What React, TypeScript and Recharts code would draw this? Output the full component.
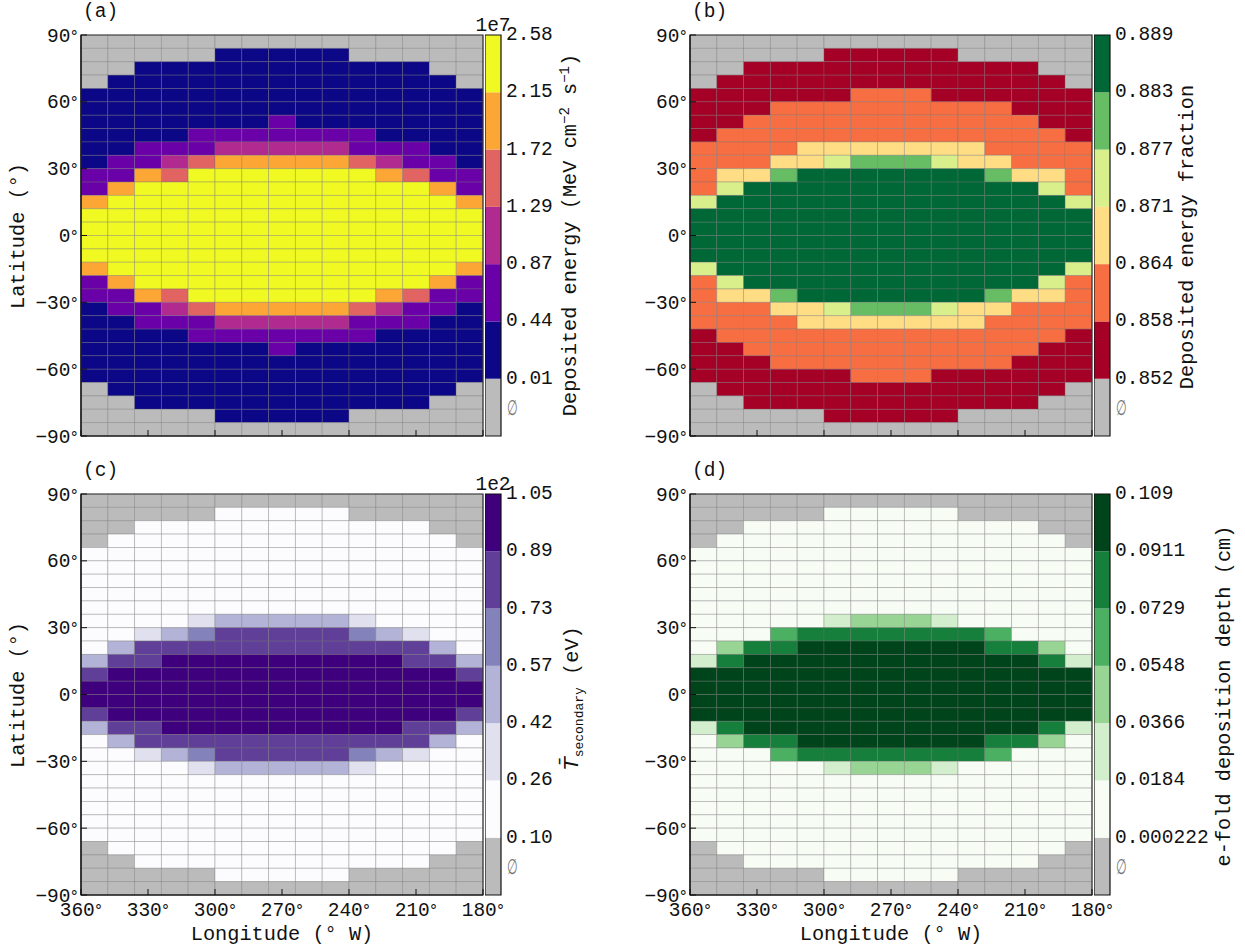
import React from 'react';
import { Bar, BarChart, ReferenceArea, Scatter, ScatterChart, XAxis, YAxis } from 'recharts';

const FONT = '"Liberation Mono", monospace';
const FONT_SIZE = 19.5;
const TITLE_SIZE = 20.3;

const LON_TICKS = [360, 330, 300, 270, 240, 210, 180];
const LAT_TICKS = [90, 60, 30, 0, -30, -60, -90];
const LON_CENTERS = [354, 342, 330, 318, 306, 294, 282, 270, 258, 246, 234, 222, 210, 198, 186];
const LAT_CENTERS = [87, 81, 75, 69, 63, 57, 51, 45, 39, 33, 27, 21, 15, 9, 3, -3, -9, -15, -21, -27, -33, -39, -45, -51, -57, -63, -69, -75, -81, -87];

// bin index per cell, top row first, 0 = no data
const ENERGY_BINS = [
  '000000000000000',
  '000001111100000',
  '001111111111100',
  '011111111111110',
  '111111111111111',
  '111111111111111',
  '111111121111111',
  '111122222221111',
  '112223333322211',
  '122345555543221',
  '225466666665422',
  '256666666666652',
  '566666666666665',
  '666666666666666',
  '666666666666666',
  '666666666666666',
  '666666666666666',
  '566666666666665',
  '256666666666652',
  '225466666665422',
  '122345555543221',
  '112223333322211',
  '111122222221111',
  '111111121111111',
  '111111111111111',
  '111111111111111',
  '011111111111110',
  '001111111111100',
  '000001111100000',
  '000000000000000',
];

const FRACTION_BINS = [
  '000000000000000',
  '000001111100000',
  '001111111111100',
  '011111111111110',
  '111111222111111',
  '111222222222111',
  '112222222222211',
  '122222222222221',
  '222233333332222',
  '222334555433222',
  '233566666665332',
  '246666666666642',
  '466666666666664',
  '666666666666666',
  '666666666666666',
  '666666666666666',
  '666666666666666',
  '466666666666664',
  '246666666666642',
  '233566666665332',
  '222334555433222',
  '222233333332222',
  '122222222222221',
  '112222222222211',
  '111222222222111',
  '111111222111111',
  '011111111111110',
  '001111111111100',
  '000001111100000',
  '000000000000000',
];

const SECONDARY_BINS = [
  '000000000000000',
  '000001111100000',
  '001111111111100',
  '011111111111110',
  '111111111111111',
  '111111111111111',
  '111111111111111',
  '111111111111111',
  '111111111111111',
  '111123333321111',
  '112345555543211',
  '135555555555531',
  '355666666666553',
  '566666666666665',
  '666666666666666',
  '666666666666666',
  '566666666666665',
  '355666666666553',
  '135555555555531',
  '112345555543211',
  '111123333321111',
  '111111111111111',
  '111111111111111',
  '111111111111111',
  '111111111111111',
  '111111111111111',
  '011111111111110',
  '001111111111100',
  '000001111100000',
  '000000000000000',
];

const DEPTH_BINS = [
  '000000000000000',
  '000001111100000',
  '001111111111100',
  '011111111111110',
  '111111111111111',
  '111111111111111',
  '111111111111111',
  '111111111111111',
  '111111111111111',
  '111112333211111',
  '111455555554111',
  '135566666665531',
  '256666666666652',
  '666666666666666',
  '666666666666666',
  '666666666666666',
  '666666666666666',
  '256666666666652',
  '135566666665531',
  '111455555554111',
  '111112333211111',
  '111111111111111',
  '111111111111111',
  '111111111111111',
  '111111111111111',
  '111111111111111',
  '011111111111110',
  '001111111111100',
  '000001111100000',
  '000000000000000',
];

const ENERGY_COLORS = ['#bbbbbb', '#0c0786', '#6a00a8', '#b12a90', '#e16462', '#fca636', '#f0f921'];
const FRACTION_COLORS = ['#bbbbbb', '#a50026', '#f66e42', '#fedd85', '#d9ef8b', '#66bd63', '#006837'];
const SECONDARY_COLORS = ['#bbbbbb', '#fcfbfd', '#e0e0ee', '#b3b3d8', '#8482ba', '#603f99', '#3f007d'];
const DEPTH_COLORS = ['#bbbbbb', '#f7fcf5', '#d3eecd', '#98d594', '#4bb062', '#157f3b', '#00441b'];

const ENERGY_TICKS = ['0.01', '0.44', '0.87', '1.29', '1.72', '2.15', '2.58'];
const FRACTION_TICKS = ['0.852', '0.858', '0.864', '0.871', '0.877', '0.883', '0.889'];
const SECONDARY_TICKS = ['0.10', '0.26', '0.42', '0.57', '0.73', '0.89', '1.05'];
const DEPTH_TICKS = ['0.000222', '0.0184', '0.0366', '0.0548', '0.0729', '0.0911', '0.109'];

const PLOT_W = 402;
const PLOT_H = 401;
const CHART_H = 476;
const CHART_W = 513;
const TOP_GAP = 35;
const LEFT_GAP = 81;
const BOTTOM_GAP = CHART_H - TOP_GAP - PLOT_H;
const CELL_W = PLOT_W / LON_CENTERS.length;
const CELL_H = PLOT_H / LAT_CENTERS.length;
const BAR_RIGHT = 110;

const CellRect = ({ cx, cy, payload, colors }: any) => (
  <rect
    x={cx - CELL_W / 2}
    y={cy - CELL_H / 2}
    width={CELL_W}
    height={CELL_H}
    fill={colors[payload.bin]}
    stroke="#707070"
    strokeOpacity={0.38}
    strokeWidth={0.9}
  />
);

const NoMark = () => <g />;

// the degree sign is narrower than a full mono cell in the original
const DegreeTick = ({ x, y, payload, textAnchor, baseline, show = true }: any) =>
  show ? (
    <text x={x} y={y + baseline} textAnchor={textAnchor} fontFamily={FONT} fontSize={FONT_SIZE} fill="#111">
      {String(payload.value).replace('-', '−')}
      <tspan fontFamily="DejaVu Sans" fontSize={15}>°</tspan>
    </text>
  ) : (
    <g />
  );

const ColorbarTick = ({ x, y, payload, labels }: any) => {
  if (payload.value === 0.5) {
    return (
      <text
        transform={`translate(${x + 1},${y + 8}) scale(0.72,1.25)`}
        fontFamily="DejaVu Sans"
        fontStyle="italic"
        fontSize={17}
        fill="#777"
      >
        ∅
      </text>
    );
  }
  return (
    <text x={x} y={y + 5} fontFamily={FONT} fontSize={FONT_SIZE} fill="#111">
      {labels[payload.value - 1]}
    </text>
  );
};

const MapPanel = ({ left, top, bins, colors, lonLabels }: any) => {
  const cells = bins.flatMap((row: string, r: number) =>
    LON_CENTERS.map((lon, c) => ({ lon, lat: LAT_CENTERS[r], bin: Number(row[c]) }))
  );
  return (
    <div style={{ position: 'absolute', left, top, width: CHART_W, height: CHART_H }}>
      <div style={{ position: 'absolute', left: 0, top: 0 }}>
        <ScatterChart
          width={CHART_W}
          height={CHART_H}
          margin={{ top: TOP_GAP, right: CHART_W - LEFT_GAP - PLOT_W, bottom: BOTTOM_GAP, left: LEFT_GAP }}
        >
          <XAxis type="number" dataKey="lon" domain={[180, 360]} reversed hide />
          <YAxis type="number" dataKey="lat" domain={[-90, 90]} hide />
          <Scatter data={cells} isAnimationActive={false} shape={<CellRect colors={colors} />} />
        </ScatterChart>
      </div>
      {/* axes go in a second chart on top so the inward ticks stay above the cells */}
      <div style={{ position: 'absolute', left: 0, top: 0 }}>
        <ScatterChart
          width={CHART_W}
          height={CHART_H}
          margin={{ top: TOP_GAP, right: CHART_W - LEFT_GAP - PLOT_W, bottom: 0, left: 0 }}
        >
          <XAxis
            type="number"
            dataKey="lon"
            domain={[180, 360]}
            reversed
            ticks={LON_TICKS}
            interval={0}
            height={BOTTOM_GAP}
            tickSize={-6}
            tickMargin={7}
            tick={<DegreeTick baseline={20} show={lonLabels} />}
            tickLine={{ stroke: '#111' }}
            axisLine={{ stroke: '#111', strokeWidth: 1.2 }}
          />
          <YAxis
            type="number"
            dataKey="lat"
            domain={[-90, 90]}
            ticks={LAT_TICKS}
            interval={0}
            width={LEFT_GAP}
            tickSize={-6}
            tickMargin={9}
            tick={<DegreeTick baseline={6.5} />}
            tickLine={{ stroke: '#111' }}
            axisLine={{ stroke: '#111', strokeWidth: 1.2 }}
          />
          <Scatter data={cells} isAnimationActive={false} shape={<NoMark />} />
          <ReferenceArea x1={180} x2={360} y1={-90} y2={90} fill="none" stroke="#333" strokeWidth={1.2} />
        </ScatterChart>
      </div>
    </div>
  );
};

const SEGMENTS = ['bin0', 'bin1', 'bin2', 'bin3', 'bin4', 'bin5', 'bin6'];
const COLORBAR_ROW = [{ name: 'bins', bin0: 1, bin1: 1, bin2: 1, bin3: 1, bin4: 1, bin5: 1, bin6: 1 }];
const COLORBAR_TICKS = [0.5, 1, 2, 3, 4, 5, 6, 7];

const Colorbar = ({ left, top, colors, labels }: any) => (
  <div style={{ position: 'absolute', left, top, width: 126, height: CHART_H }}>
    <div style={{ position: 'absolute', left: 0, top: 0 }}>
      <BarChart
        width={126}
        height={CHART_H}
        data={COLORBAR_ROW}
        barCategoryGap={0}
        margin={{ top: TOP_GAP, right: 0, bottom: BOTTOM_GAP, left: 0 }}
      >
        <XAxis dataKey="name" hide />
        <YAxis
          type="number"
          orientation="right"
          domain={[0, 7]}
          ticks={COLORBAR_TICKS}
          interval={0}
          width={BAR_RIGHT}
          tickSize={0}
          tickMargin={5}
          axisLine={false}
          tickLine={false}
          tick={<ColorbarTick labels={labels} />}
        />
        {SEGMENTS.map((key, i) => (
          <Bar key={key} dataKey={key} stackId="bar" fill={colors[i]} isAnimationActive={false} />
        ))}
      </BarChart>
    </div>
    <div style={{ position: 'absolute', left: 0, top: 0 }}>
      <BarChart
        width={126}
        height={CHART_H}
        data={COLORBAR_ROW}
        margin={{ top: TOP_GAP, right: BAR_RIGHT, bottom: BOTTOM_GAP, left: 0 }}
      >
        <XAxis dataKey="name" hide />
        <YAxis type="number" domain={[0, 7]} hide />
        <Bar dataKey="bin0" fill="none" isAnimationActive={false} />
        <ReferenceArea y1={0} y2={7} fill="none" stroke="#111" strokeWidth={1.2} />
      </BarChart>
    </div>
  </div>
);

const Rotated = ({ x, y, children }: any) => (
  <text transform={`translate(${x},${y}) rotate(-90)`} textAnchor="middle" fontSize={TITLE_SIZE}>
    {children}
  </text>
);

const Titles = () => (
  <svg
    width={1245}
    height={947}
    style={{ position: 'absolute', left: 0, top: 0, pointerEvents: 'none' }}
    fontFamily={FONT}
    fontSize={FONT_SIZE}
    fill="#111"
  >
    <text x={83} y={17}>(a)</text>
    <text x={692} y={17}>(b)</text>
    <text x={83} y={476}>(c)</text>
    <text x={692} y={476}>(d)</text>
    <text x={493} y={31} textAnchor="middle">1e7</text>
    <text x={493} y={490} textAnchor="middle">1e2</text>
    <Rotated x={24} y={236}>Latitude (°)</Rotated>
    <Rotated x={24} y={695}>Latitude (°)</Rotated>
    <text x={282} y={940} textAnchor="middle" fontSize={TITLE_SIZE}>Longitude (° W)</text>
    <text x={891} y={940} textAnchor="middle" fontSize={TITLE_SIZE}>Longitude (° W)</text>
    <Rotated x={576} y={235}>
      Deposited energy (MeV cm<tspan dy={-7} fontSize={14}>−2</tspan>
      <tspan dy={7}> s</tspan>
      <tspan dy={-7} fontSize={14}>−1</tspan>
      <tspan dy={7}>)</tspan>
    </Rotated>
    <Rotated x={1193} y={237}>Deposited energy fraction</Rotated>
    <Rotated x={578} y={698}>
      <tspan fontFamily="DejaVu Sans" fontStyle="italic">T̄</tspan>
      <tspan dy={5} fontSize={13}>secondary</tspan>
      <tspan dy={-5}> (eV)</tspan>
    </Rotated>
    <Rotated x={1230} y={696}>e-fold deposition depth (cm)</Rotated>
  </svg>
);

export default function App() {
  return (
    <div style={{ position: 'absolute', left: 0, top: 0, width: 1245, height: 947, background: '#fff' }}>
      <MapPanel left={0} top={0} bins={ENERGY_BINS} colors={ENERGY_COLORS} lonLabels={false} />
      <Colorbar left={485} top={0} colors={ENERGY_COLORS} labels={ENERGY_TICKS} />
      <MapPanel left={609} top={0} bins={FRACTION_BINS} colors={FRACTION_COLORS} lonLabels={false} />
      <Colorbar left={1094} top={0} colors={FRACTION_COLORS} labels={FRACTION_TICKS} />
      <MapPanel left={0} top={459} bins={SECONDARY_BINS} colors={SECONDARY_COLORS} lonLabels />
      <Colorbar left={485} top={459} colors={SECONDARY_COLORS} labels={SECONDARY_TICKS} />
      <MapPanel left={609} top={459} bins={DEPTH_BINS} colors={DEPTH_COLORS} lonLabels />
      <Colorbar left={1094} top={459} colors={DEPTH_COLORS} labels={DEPTH_TICKS} />
      <Titles />
    </div>
  );
}
